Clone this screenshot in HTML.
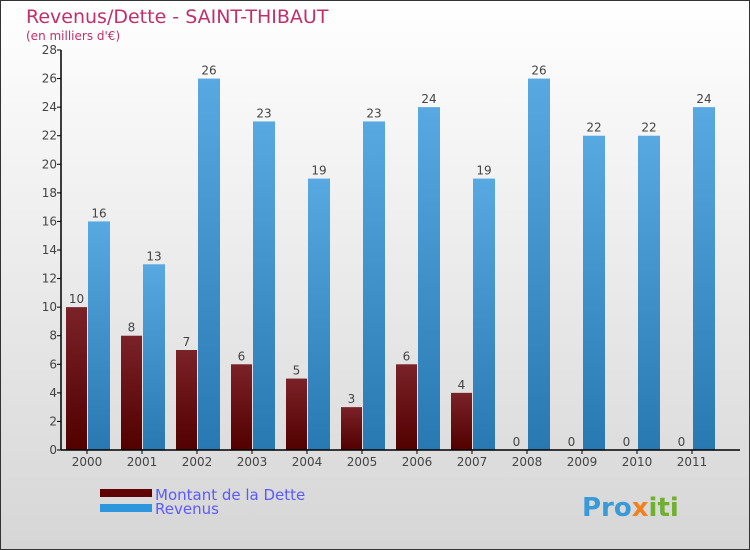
<!DOCTYPE html>
<html><head><meta charset="utf-8"><style>
body{margin:0;}
#c{width:750px;height:550px;position:relative;overflow:hidden;}
svg{display:block;font-family:"DejaVu Sans","Liberation Sans",sans-serif;}
</style></head><body>
<div id="c">
<svg id="s" width="750" height="550" xmlns="http://www.w3.org/2000/svg">
<defs>
<linearGradient id="bg" x1="0" y1="0" x2="0" y2="1"><stop offset="0" stop-color="#ffffff"/><stop offset="1" stop-color="#d6d6d6"/></linearGradient>
<linearGradient id="gd" x1="0" y1="0" x2="0" y2="1"><stop offset="0" stop-color="#7a2228"/><stop offset="1" stop-color="#520000"/></linearGradient>
<linearGradient id="gr" x1="0" y1="0" x2="0" y2="1"><stop offset="0" stop-color="#58a8e2"/><stop offset="1" stop-color="#2878b2"/></linearGradient>
</defs>
<rect x="0.5" y="0.5" width="749" height="549" fill="url(#bg)" stroke="#333"/>
<text x="26" y="23" font-size="19" fill="#c0306a">Revenus/Dette - SAINT-THIBAUT</text>
<text x="26" y="40" font-size="12" fill="#c0306a">(en milliers d'€)</text>
<g id="plot"></g>
<rect x="100" y="489" width="52" height="8" fill="#600000"/>
<text x="155" y="500" font-size="15" fill="#5a5aff">Montant de la Dette</text>
<rect x="100" y="504" width="52" height="8" fill="#2e96dd"/>
<text x="155" y="514" font-size="15" fill="#5a5aff">Revenus</text>
<text x="582" y="516" font-size="26" font-weight="bold" fill="#3a9ad8">Pro<tspan fill="#f08020">x</tspan><tspan fill="#70b030">iti</tspan></text>
</svg>
</div>
<script>
const categories=["2000","2001","2002","2003","2004","2005","2006","2007","2008","2009","2010","2011"];
const dette=[10,8,7,6,5,3,6,4,0,0,0,0];
const revenus=[16,13,26,23,19,23,24,19,26,22,22,24];
const yTicks=[0,2,4,6,8,10,12,14,16,18,20,22,24,26,28];
const NS="http://www.w3.org/2000/svg";
const g=document.getElementById('plot');
const x0=61,step=55,y0=450,yTop=50,yMax=28;
const y=v=>y0-(v/yMax)*(y0-yTop);
const xc=i=>x0+26+i*step;
function mk(t,a){const e=document.createElementNS(NS,t);for(const k in a)e.setAttribute(k,a[k]);g.appendChild(e);return e;}
categories.forEach((c,i)=>{
 const cx=xc(i);
 const b1=mk('rect',{x:cx-21,y:y(dette[i]),width:21,height:y0-y(dette[i]),fill:'url(#gd)'});
 
 
 const b2=mk('rect',{x:cx+1,y:y(revenus[i]),width:22,height:y0-y(revenus[i]),fill:'url(#gr)'});
 
 
 const l1=mk('text',{x:cx-10.5,y:y(dette[i])-4,'font-size':12,fill:'#444','text-anchor':'middle'});l1.textContent=dette[i];
 
 
 const l2=mk('text',{x:cx+12,y:y(revenus[i])-4,'font-size':12,fill:'#444','text-anchor':'middle'});l2.textContent=revenus[i];
 
 
 mk('line',{x1:cx,x2:cx,y1:y0,y2:y0+4,stroke:'#000'});
 const t=mk('text',{x:cx,y:y0+16,'font-size':12,fill:'#444','text-anchor':'middle'});t.textContent=c;
 
 
});
yTicks.forEach(v=>{
 mk('line',{x1:x0-4,x2:x0,y1:y(v),y2:y(v),stroke:'#000'});
 const t=mk('text',{x:x0-4,y:y(v)+4,'font-size':12,fill:'#444','text-anchor':'end'});t.textContent=v;
 
 
});
const ya=mk('line',{x1:x0,x2:x0,y1:yTop,y2:y0,stroke:'#000','stroke-width':1.5});


const xa=mk('line',{x1:x0,x2:740,y1:y0,y2:y0,stroke:'#000','stroke-width':1.5});


</script>
</body></html>
